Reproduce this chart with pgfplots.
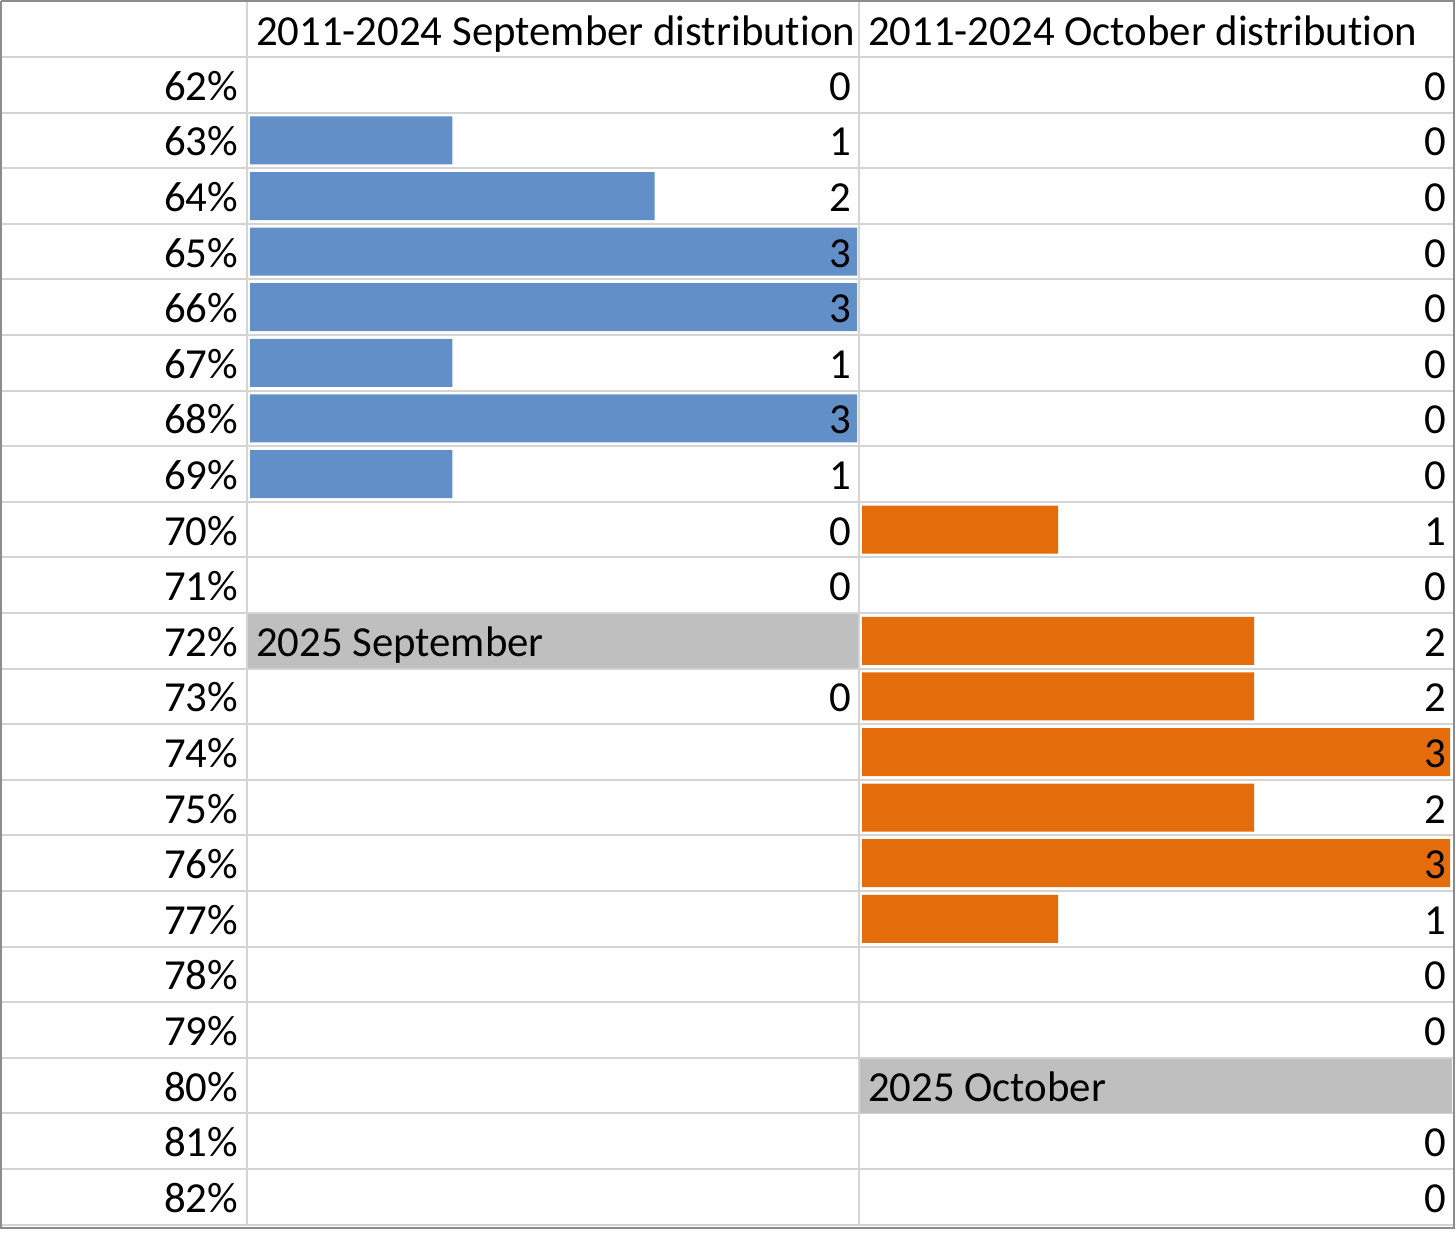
\documentclass[border=0pt]{standalone}
\usepackage{fontspec}
\setmainfont{Carlito}[Ligatures=NoCommon, RawFeature={-liga}]
\usepackage{pgfplots}
\pgfplotsset{compat=1.18}
\definecolor{barblue}{HTML}{638FC8}
\definecolor{barorange}{HTML}{E46C0A}
\definecolor{cellgray}{HTML}{BFBFBF}
\definecolor{gridgray}{HTML}{D4D4D4}
\definecolor{framegray}{HTML}{8C8C8C}
\newcommand{\cellfont}{\fontsize{21.4}{25}\selectfont}
\pgfplotsset{
  txt/.style={only marks, mark=*, mark size=0pt, mark options={draw=none,fill=none},
    nodes near coords, point meta=explicit symbolic,
    every node near coord/.append style={anchor=base #1, inner sep=0pt, outer sep=0pt, font=\cellfont, text=black}},
}
\begin{document}
\begin{tikzpicture}
\useasboundingbox (0,0) rectangle (728pt,-616pt);
\begin{axis}[at={(1pt,-1pt)}, anchor=north west, scale only axis,
  width=725.5pt, height=611.3pt,
  xmin=2, xmax=1453, ymin=2, ymax=1224.6, y dir=reverse, clip=false,
  axis line style={draw=none}, tick style={draw=none},
  xticklabels={}, yticklabels={},
  xtick={247,859},
  ytick={57,112.6,168.2,223.8,279.4,335,390.6,446.2,501.8,557.4,613,668.6,724.2,779.8,835.4,891,946.6,1002.2,1057.8,1113.4,1169,1224.6},
  grid=major, major grid style={gridgray, line width=1pt}]
% gray cells
\addplot[fill=cellgray, draw=none] coordinates {(248,614)(858,614)(858,668)(248,668)(248,614)};
\addplot[fill=cellgray, draw=none] coordinates {(860,1059)(1452,1059)(1452,1113)(860,1113)(860,1059)};
% frame
\addplot[draw=framegray, line width=1pt] coordinates {(1,1)(1454,1)(1454,1228)(1,1228)(1,1)};
% headers
\addplot[txt=west] coordinates {(256,45)[2011-2024 September distribution] (868,45)[2011-2024 October distribution] (256,656.3)[2025 September] (868,1101.1)[2025 October]};
% row labels
\addplot[txt=east] coordinates {
(238,100.3)[62\%] (238,155.9)[63\%] (238,211.5)[64\%] (238,267.1)[65\%] (238,322.7)[66\%]
(238,378.3)[67\%] (238,433.9)[68\%] (238,489.5)[69\%] (238,545.1)[70\%] (238,600.7)[71\%]
(238,656.3)[72\%] (238,711.9)[73\%] (238,767.5)[74\%] (238,823.1)[75\%] (238,878.7)[76\%]
(238,934.3)[77\%] (238,989.9)[78\%] (238,1045.5)[79\%] (238,1101.1)[80\%] (238,1156.7)[81\%]
(238,1212.3)[82\%]};
\end{axis}
% September bars
\begin{axis}[at={(125pt,-28.5pt)}, anchor=north west, scale only axis,
  width=303.5pt, height=583.8pt, xmin=0, xmax=3, ymin=-0.5, ymax=20.5,
  y dir=reverse, hide axis, clip=false, xbar, bar width=24pt]
\addplot[fill=barblue, draw=none] coordinates {(1,1)(2,2)(3,3)(3,4)(1,5)(3,6)(1,7)};
\end{axis}
% October bars
\begin{axis}[at={(431pt,-28.5pt)}, anchor=north west, scale only axis,
  width=294pt, height=583.8pt, xmin=0, xmax=3, ymin=-0.5, ymax=20.5,
  y dir=reverse, hide axis, clip=false, xbar, bar width=24pt]
\addplot[fill=barorange, draw=none] coordinates {(1,8)(2,10)(2,11)(3,12)(2,13)(3,14)(1,15)};
\end{axis}
% values on top
\begin{axis}[at={(1pt,-1pt)}, anchor=north west, scale only axis,
  width=725.5pt, height=611.3pt,
  xmin=2, xmax=1453, ymin=2, ymax=1224.6, y dir=reverse, clip=false, hide axis]
\addplot[txt=east] coordinates {
(851,100.3)[0] (851,155.9)[1] (851,211.5)[2] (851,267.1)[3] (851,322.7)[3]
(851,378.3)[1] (851,433.9)[3] (851,489.5)[1] (851,545.1)[0] (851,600.7)[0]
(851,711.9)[0]};
\addplot[txt=east] coordinates {
(1446,100.3)[0] (1446,155.9)[0] (1446,211.5)[0] (1446,267.1)[0] (1446,322.7)[0]
(1446,378.3)[0] (1446,433.9)[0] (1446,489.5)[0] (1446,545.1)[1] (1446,600.7)[0]
(1446,656.3)[2] (1446,711.9)[2] (1446,767.5)[3] (1446,823.1)[2] (1446,878.7)[3]
(1446,934.3)[1] (1446,989.9)[0] (1446,1045.5)[0] (1446,1156.7)[0] (1446,1212.3)[0]};
\end{axis}
\end{tikzpicture}
\end{document}
